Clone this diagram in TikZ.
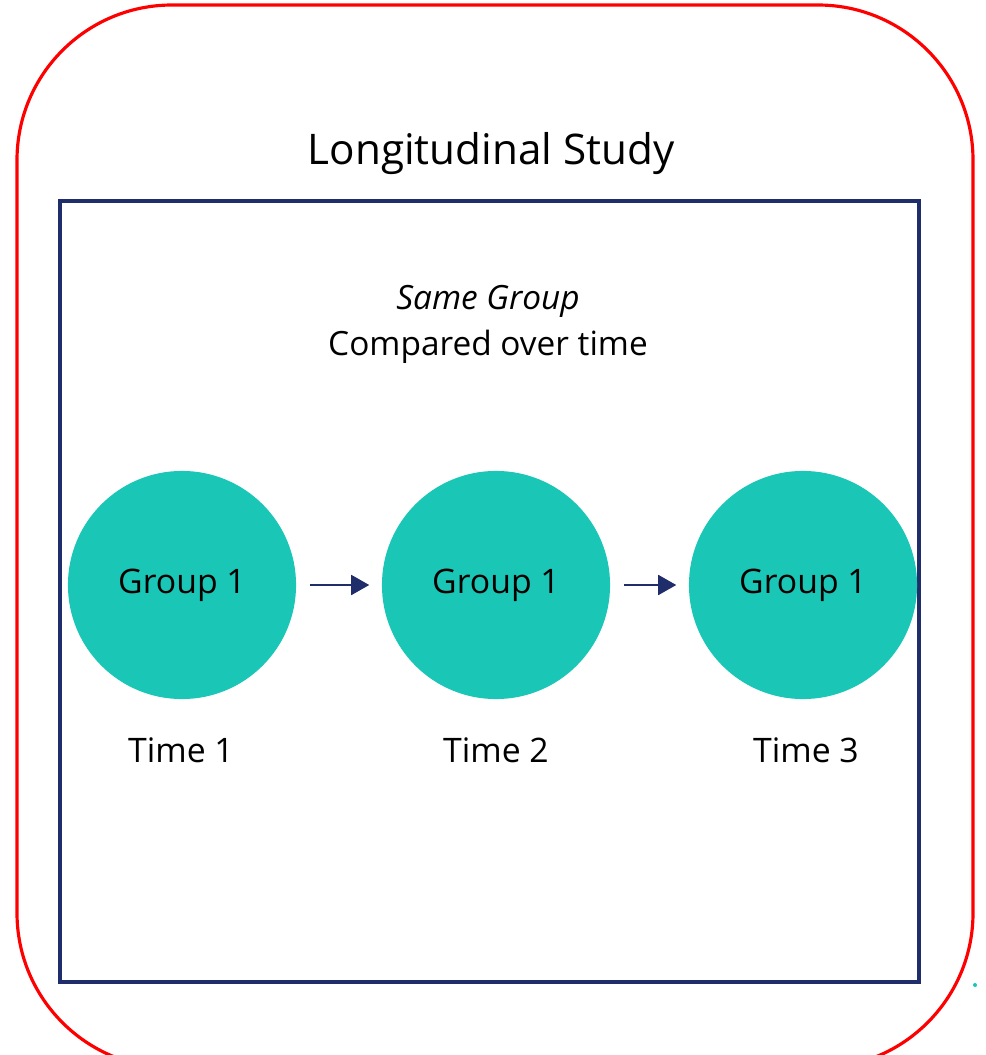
\documentclass[tikz,border=0pt]{standalone}
\usepackage{fontspec}
\setmainfont{Open Sans}
\usetikzlibrary{arrows.meta}
\definecolor{tealfill}{HTML}{1AC6B5}
\definecolor{navy}{HTML}{1F2D6B}
\tikzset{group/.style={circle,fill=tealfill,minimum size=2.28cm,inner sep=0pt,
                       font=\fontsize{9.6}{12}\selectfont}}
\tikzset{timelbl/.style={font=\fontsize{9.6}{12}\selectfont}}

\begin{document}
\begin{tikzpicture}[x=0.01cm,y=-0.01cm]
    \tikzstyle{step arrow}=[-{Triangle[length=0.18cm,width=0.2cm]},draw=navy,line width=0.5pt,
                            shorten <=0.13cm,shorten >=0.12cm]
    \useasboundingbox (0,0) rectangle (986,1055);
    \clip (0,0) rectangle (986,1055);

    % Outer red frame, cut off at the bottom
    \draw[red,line width=0.9pt,rounded corners=1.55cm] (17,5) rectangle (973,1068);

    % Inner frame
    \draw[navy,line width=0.9pt] (60,201) rectangle (919,982);
    \fill[tealfill] (975,985) circle (2);

    % Titles
    \node[font=\fontsize{12}{14}\selectfont] (title) at (491,154) {Longitudinal Study};
    \node[font=\fontsize{9.5}{12}\selectfont\itshape] (same) at (488,301) {Same Group};
    \node[font=\fontsize{9.5}{12}\selectfont] (cmp) at (488,347) {Compared over time};

    % Draw the group circles and the time labels below them
    \foreach \i / \x / \tx in {1/182/181,2/496/496,3/803/806}
    {
        \node[group] (G-\i) at (\x,585) {Group 1};
        \node[timelbl] (T-\i) at (\tx,750) {Time \i};
    }

    % Connect each circle to the next one
    \foreach \source / \dest in {1/2,2/3}
        \draw[step arrow] (G-\source) -- (G-\dest);
\end{tikzpicture}
\end{document}
